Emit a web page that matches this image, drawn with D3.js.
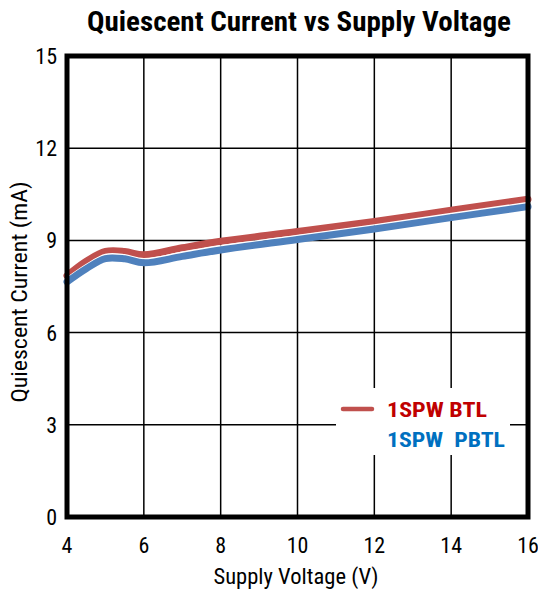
<!DOCTYPE html>
<html>
<head>
<meta charset="utf-8">
<script src="https://cdn.jsdelivr.net/npm/d3@7"></script>
<style>
  body { margin: 0; background: #fff; }
  svg text { font-family: "Liberation Sans Narrow", "Arial Narrow", "Roboto Condensed", "Liberation Sans", sans-serif; }
</style>
</head>
<body>
<div id="chart"></div>
<script>
// Supply voltage (V)
var voltage = [4, 4.5, 5, 5.5, 6, 7, 8, 10, 12, 14, 16];
// Quiescent current (mA)
var btl  = [7.85, 8.32, 8.64, 8.64, 8.53, 8.76, 8.97, 9.29, 9.62, 9.98, 10.34];
var pbtl = [7.65, 8.08, 8.41, 8.40, 8.27, 8.48, 8.69, 9.03, 9.37, 9.74, 10.10];

var xTicks = [4, 6, 8, 10, 12, 14, 16];
var yTicks = [0, 3, 6, 9, 12, 15];

var seriesNames = ["1SPW BTL", "1SPW  PBTL"];

var W = 538, H = 591;
var margin = {top: 56, right: 10, bottom: 74, left: 67};

var svg = d3.select("#chart")
    .append("svg")
    .attr("width", W)
    .attr("height", H);

var x = d3.scaleLinear()
    .domain([4, 16])
    .range([margin.left, W - margin.right]);

var y = d3.scaleLinear()
    .domain([0, 15])
    .range([H - margin.bottom, margin.top]);

// title
svg.append("text")
    .attr("x", 299)
    .attr("y", 31)
    .attr("text-anchor", "middle")
    .attr("font-size", 27)
    .attr("font-weight", "bold")
    .attr("textLength", 424)
    .attr("lengthAdjust", "spacingAndGlyphs")
    .text("Quiescent Current vs Supply Voltage");

// grid
svg.append("g")
    .selectAll("line")
    .data(xTicks)
    .enter()
    .append("line")
    .attr("x1", d => x(d)).attr("x2", d => x(d))
    .attr("y1", y(0)).attr("y2", y(15))
    .attr("stroke", "#000")
    .attr("stroke-width", 1.5);

svg.append("g")
    .selectAll("line")
    .data(yTicks)
    .enter()
    .append("line")
    .attr("x1", x(4)).attr("x2", x(16))
    .attr("y1", d => y(d)).attr("y2", d => y(d))
    .attr("stroke", "#000")
    .attr("stroke-width", 1.5);

// tick labels
svg.append("g")
    .selectAll("text")
    .data(xTicks)
    .enter()
    .append("text")
    .attr("x", d => x(d))
    .attr("y", 553)
    .attr("text-anchor", "middle")
    .attr("font-size", 22)
    .text(d => d);

svg.append("g")
    .selectAll("text")
    .data(yTicks)
    .enter()
    .append("text")
    .attr("x", 57)
    .attr("y", d => y(d) + 8)
    .attr("text-anchor", "end")
    .attr("font-size", 22)
    .text(d => d);

// axis titles
svg.append("text")
    .attr("x", 296)
    .attr("y", 584)
    .attr("text-anchor", "middle")
    .attr("font-size", 22)
    .attr("textLength", 165)
    .attr("lengthAdjust", "spacingAndGlyphs")
    .text("Supply Voltage (V)");

svg.append("text")
    .attr("transform", "translate(27,292) rotate(-90)")
    .attr("text-anchor", "middle")
    .attr("font-size", 22)
    .attr("textLength", 221)
    .attr("lengthAdjust", "spacingAndGlyphs")
    .text("Quiescent Current (mA)");

// lines
var line = d3.line()
    .x((d, i) => x(voltage[i]))
    .y(d => y(d))
    .curve(d3.curveCatmullRom.alpha(0.5));

var plot = svg.append("g");

// red series
plot.append("path")
    .attr("d", line(btl))
    .attr("fill", "none")
    .attr("stroke", "#c0504d")
    .attr("stroke-width", 7)
    .attr("stroke-linecap", "round");

// blue series, thin white edge on top
plot.append("path")
    .attr("d", line(pbtl))
    .attr("transform", "translate(0,-4)")
    .attr("fill", "none")
    .attr("stroke", "#fff")
    .attr("stroke-width", 1.6);
plot.append("path")
    .attr("d", line(pbtl))
    .attr("fill", "none")
    .attr("stroke", "#4f81bd")
    .attr("stroke-width", 7)
    .attr("stroke-linecap", "round");

// legend
var leg = svg.append("g");
leg.append("rect")
    .attr("x", 336).attr("y", 388)
    .attr("width", 174).attr("height", 67)
    .attr("fill", "#fff");
leg.append("line")
    .attr("x1", 343).attr("x2", 372)
    .attr("y1", 409).attr("y2", 409)
    .attr("stroke", "#c0504d")
    .attr("stroke-width", 4.5)
    .attr("stroke-linecap", "round");
leg.append("text")
    .attr("x", 387).attr("y", 417)
    .attr("font-size", 20)
    .attr("font-weight", "bold")
    .attr("fill", "#c00000")
    .attr("textLength", 100)
    .attr("lengthAdjust", "spacingAndGlyphs")
    .text(seriesNames[0]);
leg.append("text")
    .attr("x", 387).attr("y", 447)
    .attr("font-size", 20)
    .attr("font-weight", "bold")
    .attr("fill", "#0070c0")
    .style("white-space", "pre")
    .attr("textLength", 118)
    .attr("lengthAdjust", "spacingAndGlyphs")
    .text(seriesNames[1]);

// frame
svg.append("rect")
    .attr("x", x(4)).attr("y", y(15))
    .attr("width", x(16) - x(4))
    .attr("height", y(0) - y(15))
    .attr("fill", "none")
    .attr("stroke", "#000")
    .attr("stroke-width", 5);
</script>
</body>
</html>
